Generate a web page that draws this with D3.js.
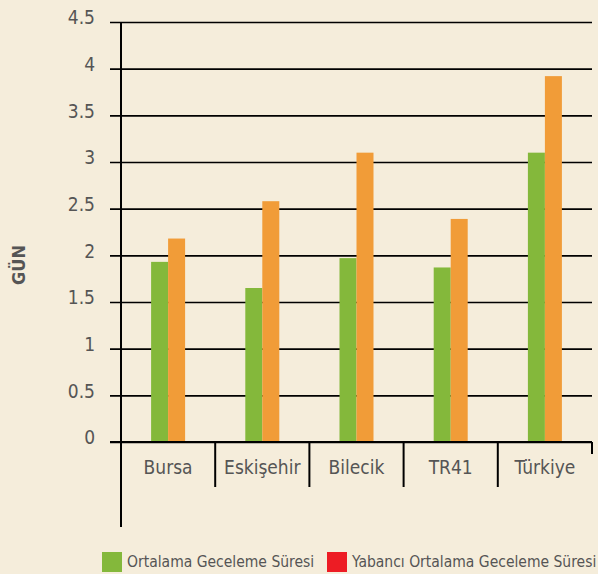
<!DOCTYPE html>
<html lang="tr">
<head>
<meta charset="UTF-8" />
<title>Ortalama Geceleme Süresi</title>
<style>
	html, body {
		margin: 0;
		padding: 0;
		background-color: #f5eddb;
		overflow: hidden;
	}
	svg text {
		font-family: 'DejaVu Sans', sans-serif;
		font-stretch: condensed;
		fill: #555;
	}
</style>
</head>
<body>
<svg id="chart" width="598" height="574"></svg>
<script src="https://d3js.org/d3.v7.min.js"></script>
<script>
	const categories = ['Bursa', 'Eskişehir', 'Bilecik', 'TR41', 'Türkiye'];
	const ortalama = [1.93, 1.65, 1.97, 1.87, 3.1];
	const yabanci = [2.18, 2.58, 3.1, 2.39, 3.92];
	const seriesNames = ['Ortalama Geceleme Süresi', 'Yabancı Ortalama Geceleme Süresi'];
	const barColors = ['#84b83b', '#f19c38'];
	const legendColors = ['#84b83b', '#ed1c24'];
	const yTicks = [0, 0.5, 1, 1.5, 2, 2.5, 3, 3.5, 4, 4.5];

	const svg = d3.select('#chart');

	const plotLeft = 121, plotRight = 592, plotTop = 22, plotBottom = 442;

	const y = d3.scaleLinear().domain([0, 4.5]).range([plotBottom, plotTop]);
	const x = d3.scaleBand().domain(categories).range([plotLeft, plotRight]);
	const xs = d3.scaleBand().domain([0, 1]).range([0, 34]);

	// gridlines + tick labels
	const yAxis = svg.append('g')
		.attr('transform', 'translate(110,0)')
		.call(d3.axisLeft(y).tickValues(yTicks).tickSize(-(plotRight - 110)).tickPadding(15)
			.tickFormat(d => String(d)));
	yAxis.select('.domain').remove();
	yAxis.selectAll('.tick line').attr('stroke', '#000').attr('stroke-width', 1.6);
	yAxis.selectAll('.tick text')
		.style('font-size', '19px')
		.attr('dy', '0.1em');

	// bars
	const groups = svg.append('g').selectAll('g')
		.data(categories)
		.join('g')
		.attr('transform', d => `translate(${x(d) + x.bandwidth() / 2 - 17},0)`);

	groups.selectAll('rect')
		.data((d, i) => [ortalama[i], yabanci[i]])
		.join('rect')
		.attr('x', (d, j) => xs(j))
		.attr('width', xs.bandwidth())
		.attr('y', d => y(d))
		.attr('height', d => y(0) - y(d))
		.attr('fill', (d, j) => barColors[j]);

	// x axis baseline
	svg.append('line')
		.attr('x1', 110).attr('x2', plotRight)
		.attr('y1', y(0)).attr('y2', y(0))
		.attr('stroke', '#000').attr('stroke-width', 2);

	// y axis line
	svg.append('line')
		.attr('x1', plotLeft).attr('x2', plotLeft)
		.attr('y1', plotTop).attr('y2', 527)
		.attr('stroke', '#000').attr('stroke-width', 2);

	// category separators
	svg.append('g').selectAll('line')
		.data(categories.slice(1))
		.join('line')
		.attr('x1', d => x(d)).attr('x2', d => x(d))
		.attr('y1', y(0)).attr('y2', 487)
		.attr('stroke', '#000').attr('stroke-width', 2);

	svg.append('line')
		.attr('x1', plotRight).attr('x2', plotRight)
		.attr('y1', y(0)).attr('y2', 454)
		.attr('stroke', '#000').attr('stroke-width', 2);

	// category labels
	svg.append('g').selectAll('text')
		.data(categories)
		.join('text')
		.attr('x', d => x(d) + x.bandwidth() / 2)
		.attr('y', 474)
		.attr('text-anchor', 'middle')
		.style('font-size', '19px')
		.text(d => d);

	// y title
	svg.append('text')
		.attr('transform', 'translate(25,265) rotate(-90)')
		.attr('text-anchor', 'middle')
		.style('font-size', '18px')
		.style('font-weight', 'bold')
		.text('GÜN');

	// legend
	const legendX = [102, 327];
	const legend = svg.append('g').selectAll('g')
		.data(seriesNames)
		.join('g')
		.attr('transform', (d, i) => `translate(${legendX[i]},552)`);
	legend.append('rect')
		.attr('width', 20).attr('height', 20)
		.attr('fill', (d, i) => legendColors[i]);
	legend.append('text')
		.attr('x', 25).attr('y', 15)
		.style('font-size', '15.5px')
		.text(d => d);
</script>
</body>
</html>
